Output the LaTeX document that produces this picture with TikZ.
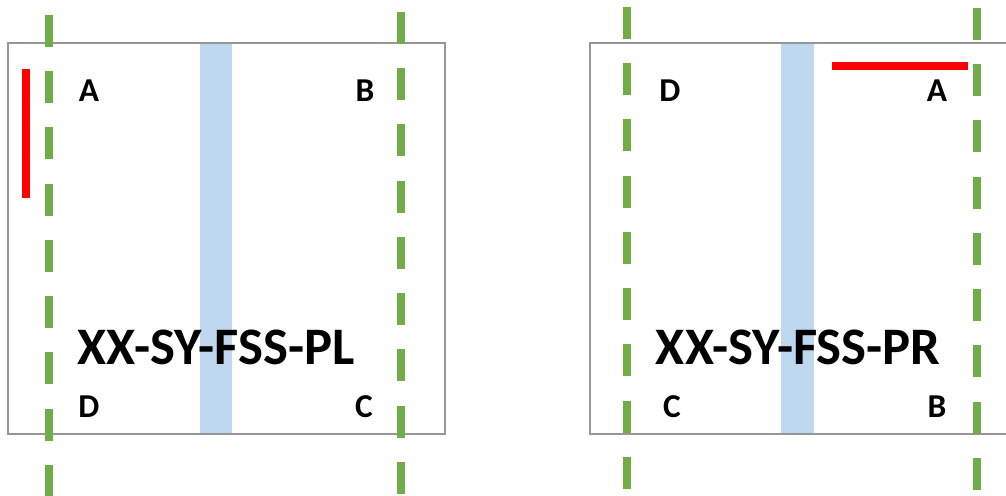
\documentclass[tikz,border=0pt]{standalone}
\usepackage{fontspec}
\setmainfont{Carlito}
\usepackage{xcolor}
\definecolor{cutgreen}{RGB}{112,173,71}
\definecolor{bandblue}{RGB}{189,215,238}
\definecolor{framegray}{RGB}{150,150,150}

\tikzset{
  cutline/.style={cutgreen, line width=0.16cm, dash pattern=on 0.64cm off 0.485cm},
  edgeline/.style={red, line width=0.16cm},
  frameline/.style={framegray, line width=0.7pt},
  corner/.style={inner sep=0pt, font=\bfseries\fontsize{19}{19}\selectfont},
  partname/.style={inner sep=0pt, font=\bfseries\fontsize{30}{30}\selectfont}
}

\begin{document}
\begin{tikzpicture}[x=0.02cm, y=-0.02cm]
\useasboundingbox (0,0) rectangle (1006,496);
\clip (0,0) rectangle (1006,496);

% LEFT: part XX-SY-FSS-PL, red edge on the left
\begin{scope}
  \fill[bandblue] (200,43) rectangle (232,434);
  \draw[frameline] (8,43) rectangle (445,434);
  \draw[cutline] (49,15) -- (49,496);
  \draw[cutline] (401,12) -- (401,496);
  \draw[edgeline] (26,69) -- (26,198);
  \node[corner] (pl-a) at (89,91) {A};
  \node[corner] (pl-b) at (365,91) {B};
  \node[corner] (pl-c) at (364,407) {C};
  \node[corner] (pl-d) at (89,407) {D};
  \node[partname] (pl-name) at (216,347) {XX-SY-FSS-PL};
\end{scope}

% RIGHT: part XX-SY-FSS-PR, red edge on top
\begin{scope}
  \fill[bandblue] (781,43) rectangle (814,434);
  \draw[frameline] (590,43) rectangle (1030,434);
  \draw[cutline] (627,7) -- (627,496);
  \draw[cutline] (977,8) -- (977,496);
  \draw[edgeline] (832,66) -- (968,66);
  \node[corner] (pr-d) at (670,91) {D};
  \node[corner] (pr-a) at (937,91) {A};
  \node[corner] (pr-b) at (937,407) {B};
  \node[corner] (pr-c) at (672,407) {C};
  \node[partname] (pr-name) at (798,347) {XX-SY-FSS-PR};
\end{scope}

\end{tikzpicture}
\end{document}
